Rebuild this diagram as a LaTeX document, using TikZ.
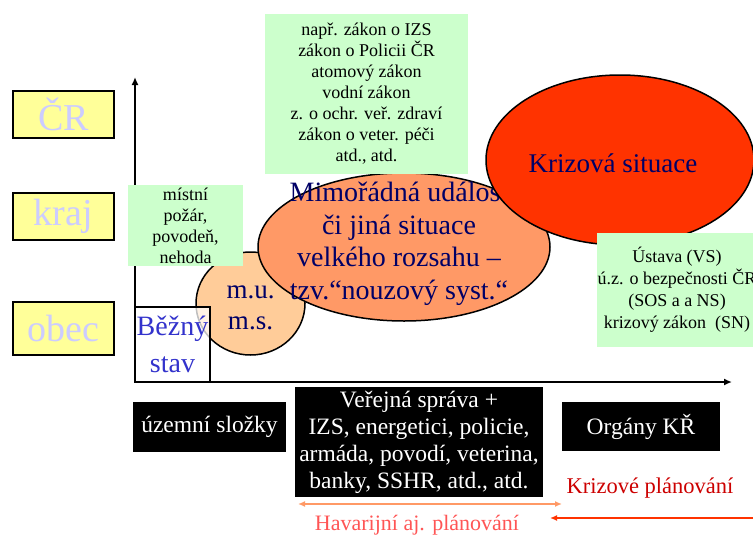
\documentclass[tikz,border=0pt]{standalone}
\usepackage{fontspec}
\setmainfont{Liberation Serif}
\usetikzlibrary{shapes.geometric,arrows.meta}

\definecolor{zluta}{HTML}{FFFF99}
\definecolor{svetlemodra}{HTML}{CCCCFF}
\definecolor{zelena}{HTML}{CCFFCC}
\definecolor{lososova}{HTML}{FF9966}
\definecolor{broskev}{HTML}{FFCC99}
\definecolor{cervena}{HTML}{FF3300}
\definecolor{tmavemodra}{HTML}{000066}
\definecolor{modra}{HTML}{3333CC}
\definecolor{tmavecervena}{HTML}{CC0000}
\definecolor{havarijni}{HTML}{FF5555}

\begin{document}
\begin{tikzpicture}[x=1pt, y=-1pt,
	uroven/.style={draw=black, line width=2pt, fill=zluta, text=svetlemodra, minimum width=101pt, minimum height=47pt, inner sep=0pt, font=\fontsize{38}{42}\selectfont},
	zakony/.style={fill=zelena, inner sep=0pt},
	zakontext/.style={align=center, font=\fontsize{18}{21}\selectfont},
	cerna/.style={fill=black, text=white, inner sep=0pt, align=center, font=\fontsize{23.5}{27}\selectfont},
	situace/.style={ellipse, draw=black, line width=1.5pt, inner sep=0pt},
	situacetext/.style={text=tmavemodra, align=center}]
	
	\useasboundingbox (0,0) rectangle (753,536);
	\clip (0,0) rectangle (753,536);
	
	% Urovne
	\draw (63.5,114) node[uroven] (cr) {ČR};
	\draw (63.5,216.5) node[uroven] (kraj) {kraj};
	\draw (63.5,328.5) node[uroven, minimum height=53pt] (obec) {obec};
	
	
	% Osy
	\coordinate (pocatek) at (135,382);
	\coordinate (vrchol) at (135,77);
	\coordinate (konec) at (732,382);
	
	\draw [-{Latex[length=8pt,width=7pt]}, line width=1.6pt] (pocatek) -- (vrchol);
	\draw [-{Latex[length=8pt,width=7pt]}, line width=1.6pt] (pocatek) -- (konec);
	
	
	% m.u. / m.s.
	\draw (250.5,303.5) node[situace, fill=broskev, minimum width=109pt, minimum height=103pt] (mu) {};
	
	\node[situacetext, font=\fontsize{27}{31}\selectfont, yshift=-4pt] at (mu.center) {m.u.\\m.s.};
	
	
	% Bezny stav
	\draw (172.5,344.5) node[draw=black, line width=1.5pt, fill=white, fill opacity=0.75, text opacity=1, minimum width=75pt, minimum height=75pt, inner sep=0pt] (bezny) {};
	
	\node[text=modra, align=center, font=\fontsize{28}{37}\selectfont] at (bezny.center) {Běžný\\stav};
	
	
	% Mimoradna udalost
	\draw (404,247) node[situace, fill=lososova, minimum width=292pt, minimum height=148pt] (mu2) {};
	
	\node[situacetext, font=\fontsize{28}{32.5}\selectfont] at (399,244) {Mimořádná událost\\či jiná situace\\velkého rozsahu –\\tzv.“nouzový syst.“};
	
	
	% Krizova situace
	\draw (620,160) node[situace, fill=cervena, minimum width=268pt, minimum height=170pt] (ks) {};
	
	\node[situacetext, font=\fontsize{27}{30}\selectfont] at (613,163) {Krizová situace};
	
	
	% Zakony
	\draw (366.5,94) node[zakony, minimum width=203pt, minimum height=160pt] (zakony) {};
	
	\node[zakontext] at (zakony.center) {např. zákon o IZS\\zákon o Policii ČR\\atomový zákon\\vodní zákon\\z. o ochr. veř. zdraví\\zákon o veter. péči\\atd., atd.};
	
	\draw (185.5,225.5) node[zakony, minimum width=115pt, minimum height=81pt] (mistni) {};
	
	\node[zakontext] at (mistni.center) {místní\\požár,\\povodeň,\\nehoda};
	
	\draw (677,290) node[zakony, minimum width=160pt, minimum height=114pt] (ustava) {};
	
	\node[zakontext, font=\fontsize{18}{22}\selectfont] at (ustava.center) {Ústava (VS)\\ú.z. o bezpečnosti ČR\\(SOS a a NS)\\krizový zákon~~(SN)};
	
	
	% Slozky
	\draw (209.5,427) node[cerna, minimum width=153pt, minimum height=50pt] (uzemni) {územní složky};
	
	\draw (419,442) node[cerna, minimum width=248pt, minimum height=110pt] (verejna) {Veřejná správa +\\IZS, energetici, policie,\\armáda, povodí, veterina,\\banky, SSHR, atd., atd.};
	
	\draw (641,426.5) node[cerna, minimum width=158pt, minimum height=49pt] (organy) {Orgány KŘ};
	
	
	% Planovani
	\coordinate (hav1) at (298,504);
	\coordinate (hav2) at (562,504);
	\coordinate (kp1) at (753,518);
	\coordinate (kp2) at (550,518);
	
	\draw [{Latex[length=7pt,width=6pt]}-{Latex[length=7pt,width=6pt]}, line width=1.5pt, color=lososova] (hav1) -- (hav2);
	\draw [-{Latex[length=7pt,width=6pt]}, line width=1.5pt, color=cervena] (kp1) -- (kp2);
	
	\draw (417,525) node[text=havarijni, font=\fontsize{22}{25}\selectfont] (havarijni) {Havarijní aj. plánování};
	\draw (650,488) node[text=tmavecervena, font=\fontsize{22.5}{25}\selectfont] (krizove) {Krizové plánování};
	
\end{tikzpicture}
\end{document}
